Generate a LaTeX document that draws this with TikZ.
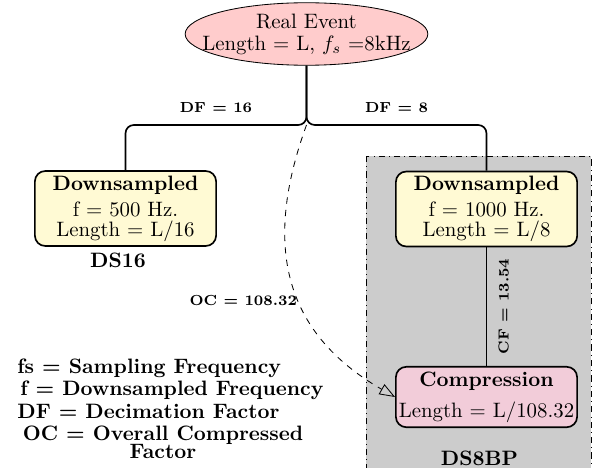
\documentclass[tikz,border=0pt]{standalone}
\usepackage{amsmath}
\usepackage{xcolor}
\usepackage{tikz}
\usetikzlibrary{arrows.meta,calc,positioning,shapes.geometric}
\definecolor{eventfill}{RGB}{255,204,204}
\definecolor{dsfill}{RGB}{255,250,212}
\definecolor{compfill}{RGB}{242,204,217}
\definecolor{bpregion}{RGB}{204,204,204}
\tikzset{
  eventnode/.style={ellipse,draw,thin,fill=eventfill,align=center,
    minimum width=116.5pt,minimum height=30pt,inner xsep=-9pt,inner ysep=0pt},
  dsbox/.style={draw,thick,rounded corners=5pt,fill=dsfill,align=center,
    minimum width=87pt,minimum height=36pt,inner sep=1pt},
  compbox/.style={dsbox,fill=compfill,minimum height=29pt},
  branch/.style={thick,rounded corners=4pt},
  factorlabel/.style={font=\scriptsize\bfseries},
  legendtext/.style={font=\bfseries,inner sep=0pt}
}

\begin{document}
\begin{tikzpicture}[x=0.48pt,y=-0.48pt]
  \useasboundingbox (0,0) rectangle (605,467);
  % band-pass region
  \draw[dash dot,fill=bpregion] (366,156) rectangle (591,480);

  \node[eventnode] (event) at (306.5,34) {Real Event\\[-1.5pt]Length = L, $f_s$ =8kHz};
  \coordinate (split) at (306.5,125);

  \node[dsbox] (ds16) at (125.5,208.5) {\textbf{Downsampled}\\[0.5pt]f = 500 Hz.\\[-2.5pt]Length = L/16};
  \node[dsbox] (ds8) at (486.5,209) {\textbf{Downsampled}\\[0.5pt]f = 1000 Hz.\\[-2.5pt]Length = L/8};
  \node[compbox] (comp) at (486.5,397) {\textbf{Compression}\\[3pt]Length = L/108.32};

  \node[font=\bfseries,anchor=base] (ds16lbl) at (118,267) {DS16};
  \node[font=\bfseries,anchor=base] (ds8lbl) at (479.5,465) {DS8BP};

  \draw[branch] (event.south) -- (split) -| node[pos=0.25,above=2pt,factorlabel] {DF = 16} (ds16.north);
  \draw[branch] (event.south) -- (split) -| node[pos=0.25,above=2pt,factorlabel] {DF = 8} (ds8.north);
  \draw[thick] (comp.north) -- node[midway,sloped,below=2pt,factorlabel] {CF = 13.54} (ds8.south);
  \draw[dashed,-{Triangle[open,length=7.5pt,width=5.5pt]}] (split)
    to[out=-110,in=150,looseness=1.15] node[pos=0.57,anchor=east,factorlabel,inner sep=1pt] {OC = 108.32} (comp.west);

  % legend
  \node[legendtext,anchor=base west] (lgfs) at (17,373) {fs = Sampling Frequency};
  \node[legendtext,anchor=base west] (lgf) at (20,395) {f = Downsampled Frequency};
  \node[legendtext,anchor=base west] (lgdf) at (17,418) {DF = Decimation Factor};
  \node[legendtext,anchor=north,align=center] (lgoc) at (163,426) {OC = Overall Compressed\\[-3.5pt]Factor};
\end{tikzpicture}
\end{document}
